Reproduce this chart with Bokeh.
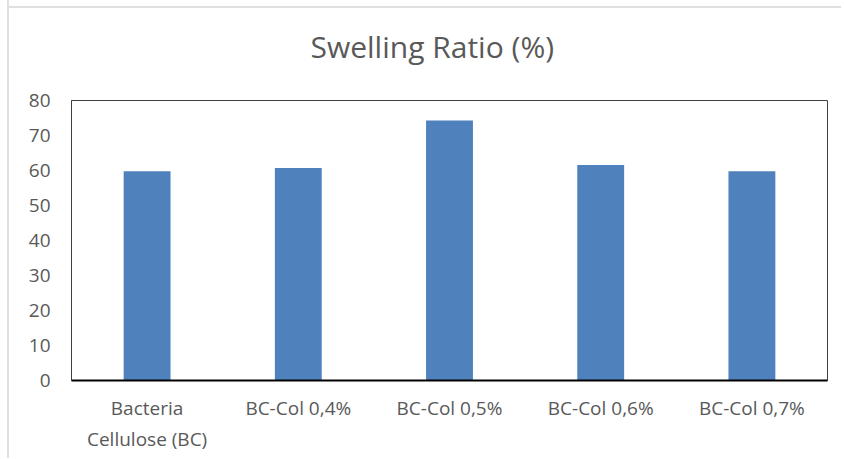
from bokeh.plotting import figure
from bokeh.models import Range1d, FactorRange, FixedTicker, Title, ColumnDataSource
from bokeh.embed import file_html
from bokeh.resources import INLINE

categories = ["Bacteria\nCellulose (BC)", "BC-Col 0,4%", "BC-Col 0,5%", "BC-Col 0,6%", "BC-Col 0,7%"]
swelling = [59.8, 60.7, 74.3, 61.6, 59.8]
y_ticks = [0, 10, 20, 30, 40, 50, 60, 70, 80]
title_text = "Swelling Ratio (%)"

FONT = "Open Sans"
GRAY = "#595959"

src = ColumnDataSource(data=dict(cat=categories, val=swelling))

p = figure(
    x_range=FactorRange(*categories, range_padding=0),
    y_range=Range1d(0, 80),
    width=834, height=468,
    output_backend="svg", toolbar_location=None,
    min_border_left=62, min_border_right=16, min_border_top=110, min_border_bottom=78,
)
p.border_fill_color = None
p.background_fill_color = "white"
p.styles = {"margin-left": "7px", "margin-top": "-10px",
            "border-left": "2px solid #e0e0e0",
            "background": "linear-gradient(#e0e0e0, #e0e0e0) 0 16px / 100% 2px no-repeat"}

p.vbar(x="cat", top="val", width=0.31, source=src, fill_color="#4F81BD", line_color=None)

t = Title(text=title_text, align="left", text_font=FONT,
          text_font_size="30px", text_color=GRAY, text_font_style="normal",
          offset=239, standoff=67)
p.add_layout(t, "above")

p.xgrid.visible = False
p.ygrid.visible = False
p.outline_line_color = "#404040"
p.outline_line_width = 1

p.yaxis.ticker = FixedTicker(ticks=y_ticks)
p.yaxis.major_tick_line_color = None
p.yaxis.minor_tick_line_color = None
p.yaxis.axis_line_color = "#404040"
p.yaxis.major_label_text_font = FONT
p.yaxis.major_label_text_font_size = "19px"
p.yaxis.major_label_text_color = GRAY
p.yaxis.major_label_standoff = 15

p.xaxis.major_tick_line_color = None
p.xaxis.minor_tick_line_color = None
p.xaxis.axis_line_color = "black"
p.xaxis.axis_line_width = 2
p.xaxis.major_label_text_font = FONT
p.xaxis.major_label_text_font_size = "19px"
p.xaxis.major_label_text_color = GRAY
p.xaxis.major_label_standoff = 8
p.xaxis.group_text_font_size = "0px"

open("out.html", "w").write(file_html(p, INLINE))
